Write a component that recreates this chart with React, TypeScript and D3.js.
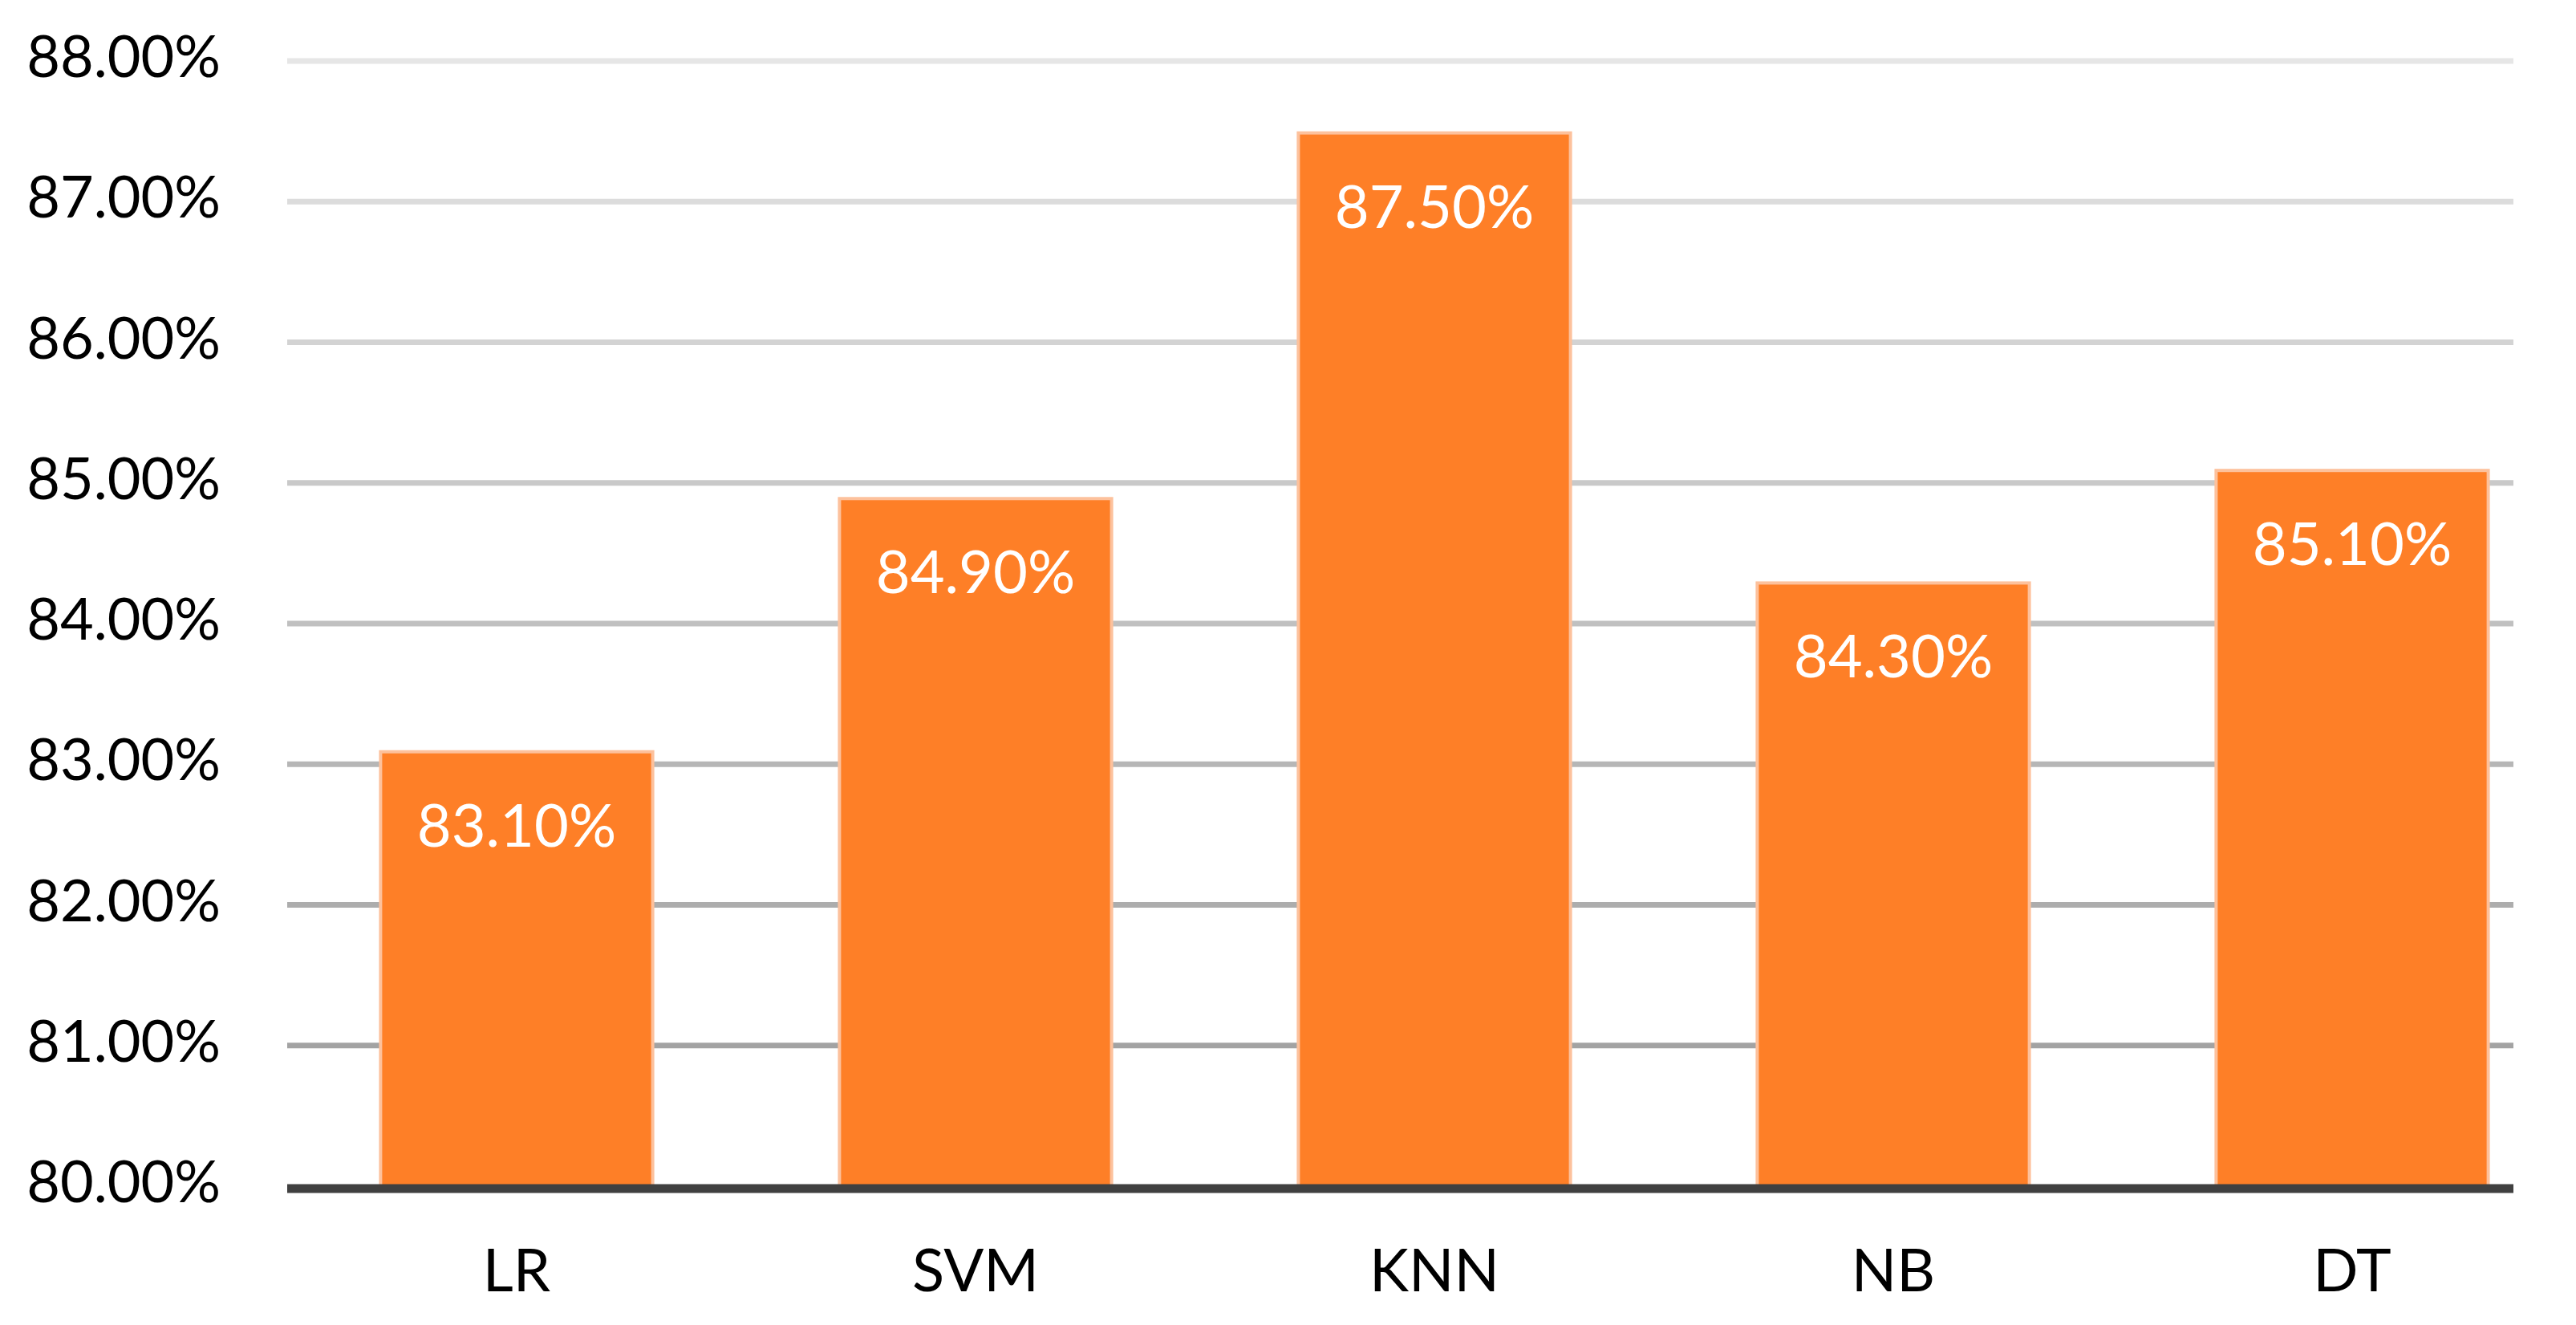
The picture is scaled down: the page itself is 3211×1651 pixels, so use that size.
import * as d3 from "d3";
import { useEffect, useRef } from "react";

const categories = ["LR", "SVM", "KNN", "NB", "DT"];
const accuracy = [83.1, 84.9, 87.5, 84.3, 85.1];
const yTicks = [80, 81, 82, 83, 84, 85, 86, 87, 88];

const W = 3211;
const H = 1651;

const App = () => {
  const ref = useRef(null);

  useEffect(() => {
    const svg = d3.select(ref.current);
    const left = 358;
    const right = 3133; // picture is cropped here
    const top = 76;
    const bottom = 1478;
    const font = "Lato, 'Liberation Sans Narrow', sans-serif";

    const x = d3
      .scaleBand()
      .domain(categories)
      .range([left, 3218])
      .paddingInner(0.4)
      .paddingOuter(0.2);

    const y = d3.scaleLinear().domain([80, 88]).range([bottom, top]);

    // gridlines get darker toward the bottom
    const gridColor = d3
      .scaleLinear<string>()
      .domain([81, 88])
      .range(["#a3a3a3", "#e6e6e6"]);

    svg
      .append("g")
      .selectAll("line")
      .data(yTicks.filter((t) => t > 80))
      .enter()
      .append("line")
      .attr("x1", left)
      .attr("x2", right)
      .attr("y1", (d) => y(d))
      .attr("y2", (d) => y(d))
      .attr("stroke", (d) => gridColor(d))
      .attr("stroke-width", 7);

    svg
      .append("g")
      .selectAll("text")
      .data(yTicks)
      .enter()
      .append("text")
      .attr("x", 275)
      .attr("y", (d) => y(d) + 20)
      .attr("text-anchor", "end")
      .style("font-family", font)
      .style("font-size", "72px")
      .attr("fill", "#000")
      .text((d) => d3.format(".2f")(d) + "%");

    const bars = svg
      .append("g")
      .selectAll(".bar")
      .data(categories.map((c, i) => ({ name: c, value: accuracy[i] })))
      .enter()
      .append("g")
      .attr("class", "bar");

    bars
      .append("rect")
      .attr("x", (d) => x(d.name) + 2)
      .attr("y", (d) => y(d.value) + 2)
      .attr("width", x.bandwidth() - 4)
      .attr("height", (d) => bottom - y(d.value) - 2)
      .attr("fill", "#fe7f27")
      .attr("stroke", "#fdc19c")
      .attr("stroke-width", 4);

    bars
      .append("text")
      .attr("x", (d) => x(d.name) + x.bandwidth() / 2)
      .attr("y", (d) => y(d.value) + 120)
      .attr("text-anchor", "middle")
      .style("font-family", font)
      .style("font-size", "74px")
      .attr("fill", "#fff")
      .text((d) => d.value.toFixed(2) + "%");

    // x axis baseline
    svg
      .append("line")
      .attr("x1", left)
      .attr("x2", right)
      .attr("y1", bottom + 3)
      .attr("y2", bottom + 3)
      .attr("stroke", "#404040")
      .attr("stroke-width", 11);

    svg
      .append("g")
      .selectAll("text")
      .data(categories)
      .enter()
      .append("text")
      .attr("x", (d) => x(d) + x.bandwidth() / 2)
      .attr("y", 1609)
      .attr("text-anchor", "middle")
      .style("font-family", font)
      .style("font-size", "74px")
      .attr("fill", "#000")
      .text((d) => d);

    return () => svg.selectAll("*").remove();
  }, []);

  return (
    <svg
      ref={ref}
      width={W}
      height={H}
      style={{ position: "absolute", left: 0, top: 0, background: "#fff" }}
    />
  );
};

export default App;
